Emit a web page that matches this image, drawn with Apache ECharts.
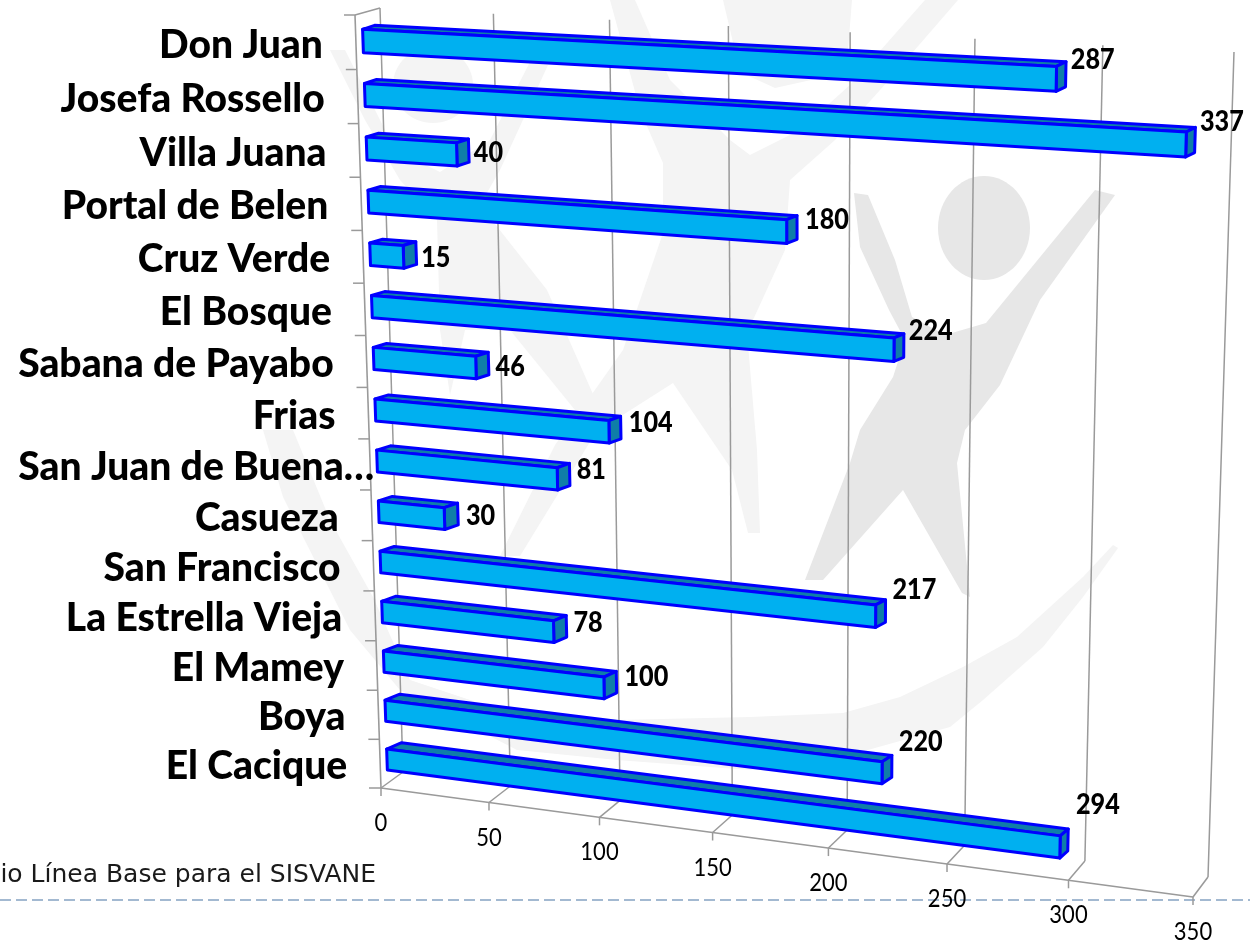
<!DOCTYPE html>
<html>
<head>
<meta charset="utf-8">
<style>html,body{margin:0;padding:0;background:#fff}#c{width:1250px;height:941px}</style>
<script src="https://cdn.jsdelivr.net/npm/echarts@6/dist/echarts.min.js"></script>
</head>
<body>
<div id="c"></div>
<script>
const categories = ['Don Juan','Josefa Rossello','Villa Juana','Portal de Belen','Cruz Verde','El Bosque','Sabana de Payabo','Frias','San Juan de Buena…','Casueza','San Francisco','La Estrella Vieja','El Mamey','Boya','El Cacique'];
const values = [287,337,40,180,15,224,46,104,81,30,217,78,100,220,294];
const ticks = [0,50,100,150,200,250,300,350];

// label placement relative to the projected bar end (styling, not data)
const labelNudge = [[5,-14],[5,-18],[5,2],[8,-8],[5,5],[5,-15],[7,3],[8,-5],[7,-4],[8,2],[7,-21],[7,-3],[8,-5],[7,-24],[8,-35]];

// --- projective view of the value/category plane ---
function homography(src, dst){
  const A=[];
  for(let i=0;i<4;i++){
    const [x,y]=src[i],[X,Y]=dst[i];
    A.push([x,y,1,0,0,0,-x*X,-y*X,X]);
    A.push([0,0,0,x,y,1,-x*Y,-y*Y,Y]);
  }
  for(let i=0;i<8;i++){
    let p=i;
    for(let r=i+1;r<8;r++) if(Math.abs(A[r][i])>Math.abs(A[p][i])) p=r;
    [A[i],A[p]]=[A[p],A[i]];
    for(let r=0;r<8;r++){
      if(r===i) continue;
      const f=A[r][i]/A[i][i];
      for(let k=i;k<9;k++) A[r][k]-=f*A[i][k];
    }
  }
  const h=A.map((row,i)=>row[8]/row[i]);
  return (x,y)=>{
    const w=h[6]*x+h[7]*y+1;
    return [(h[0]*x+h[1]*y+h[2])/w,(h[3]*x+h[4]*y+h[5])/w];
  };
}
const barSrc=[[0,0.5],[0,14.5],[337,1.5],[294,14.5]];
const barFront=homography(barSrc,[[363,41],[387,759.5],[1186,144.5],[1060,847]]);
const barBack =homography(barSrc,[[375,37],[402,753],[1195,140],[1068,840]]);
const wallSrc=[[0,0],[0,15],[350,15],[350,0]];
const wall =homography(wallSrc,[[380,8],[403,772],[1208,877],[1234,52]]);
const front=homography(wallSrc,[[355,15],[381,788],[1193,897],[1220,60]]);

const BAR_HALF=0.215;
const AXIS='#9a9a9a', FACE='#00b0f0', DARK='#0f7ea8', EDGE='#0000ff';
const sans='Lato, "Open Sans", sans-serif';

function unit(params,p){
  const s=params.coordSys;
  return [(p[0]-s.x)/s.width*350,(p[1]-s.y)/s.height*categories.length];
}
const poly=(pts,fill)=>({type:'polygon',shape:{points:pts},style:{fill,stroke:EDGE,lineWidth:3,lineJoin:'round'}});
const line=(a,b,w)=>({type:'line',shape:{x1:a[0],y1:a[1],x2:b[0],y2:b[1]},style:{stroke:AXIS,lineWidth:w||1.5}});
const text=(x,y,t,font,align,sx)=>({type:'text',x,y,scaleX:sx||1,style:{text:t,fill:'#000',font,align:align||'left',verticalAlign:'middle'}});

function renderBar(params,api){
  const i=api.value(1);
  const [v,c]=unit(params,api.coord([api.value(0),i]));
  const t=c-BAR_HALF,b=c+BAR_HALF;
  const fl=barFront(0,t),fb=barFront(0,b),fr=barFront(v,t),frb=barFront(v,b);
  const bl=barBack(0,t),br=barBack(v,t),brb=barBack(v,b);
  const mid=barBack(v,c);
  const n=labelNudge[i];
  return {type:'group',children:[
    poly([fl,bl,br,fr],DARK),
    poly([fr,br,brb,frb],DARK),
    poly([fl,fr,frb,fb],FACE),
    text(mid[0]+n[0],mid[1]+n[1],String(api.value(0)),'900 28px '+sans,'left',0.9)
  ]};
}
function renderTick(params,api){
  const [v]=unit(params,api.coord([api.value(0),0]));
  const topB=wall(v,0),botB=wall(v,15),f=front(v,15);
  const kids=[
    line(topB,botB),line(botB,f),line(f,[f[0],f[1]+8]),
    text(f[0],f[1]+35,String(api.value(0)),'25px '+sans,'center',0.88)
  ];
  if(v===0){
    const tl=front(0,0);
    kids.push(line(tl,f,1.6),line(tl,topB),line(f,front(350,15),1.6),line(f,[f[0]-12,f[1]]));
  }
  return {type:'group',children:kids};
}
function renderCat(params,api){
  const i=api.value(1);
  const [,c]=unit(params,api.coord([0,i]));
  const top=front(0,c-0.5),m=front(0,c);
  const name=categories[i];
  const off=name.endsWith('…')?4:-33;
  return {type:'group',children:[
    line(top,[top[0]-11,top[1]]),
    text(m[0]+off,m[1]+3,name,'900 39px '+sans,'right')
  ]};
}

// --- faint logo behind the plot ---
const lightGrey='#f4f4f4', midGrey='#e7e7e7';
const shape=(pts,fill)=>({type:'polygon',silent:true,shape:{points:pts},style:{fill}});
const watermark=[
  // centre figure
  shape([[723,0],[852,0],[848,50],[820,78],[775,88],[740,72]],lightGrey),
  shape([[610,0],[635,0],[670,80],[730,140],[750,155],[800,130],[850,85],[925,0],[958,0],[880,90],[835,140],[790,180],[785,250],[747,333],[757,450],[760,533],[748,533],[732,470],[673,383],[596,432],[520,556],[500,556],[555,445],[590,397],[623,350],[663,233],[663,163],[640,110]],lightGrey),
  // left figure
  {type:'ellipse',silent:true,shape:{cx:433,cy:85,rx:40,ry:38},style:{fill:lightGrey}},
  shape([[330,50],[345,50],[370,100],[395,150],[440,172],[490,140],[530,62],[548,65],[500,170],[480,205],[547,290],[600,410],[575,410],[510,330],[465,330],[450,395],[440,330],[437,220],[400,180],[365,120]],lightGrey),
  // lower swoosh
  shape([[263,430],[293,430],[330,520],[373,597],[410,680],[500,710],[617,720],[750,717],[843,713],[900,697],[963,667],[1017,637],[1083,577],[1113,545],[1118,548],[1083,597],[1043,647],[983,700],[950,727],[850,755],[750,770],[617,760],[517,750],[400,690],[350,630],[283,497]],lightGrey),
  // right figure
  shape([[854,193],[868,195],[895,260],[912,317],[945,335],[986,323],[1095,190],[1115,195],[1040,300],[1000,385],[965,430],[957,463],[970,597],[962,593],[903,490],[823,580],[805,580],[850,463],[860,430],[893,377],[905,340],[889,310],[860,247]],midGrey),
  {type:'ellipse',silent:true,shape:{cx:984,cy:228,rx:46,ry:52},style:{fill:midGrey}}
];

const chart=echarts.init(document.getElementById('c'),null,{width:1250,height:941});
chart.setOption({
  backgroundColor:'#fff',
  animation:false,
  grid:{left:100,top:20,width:1000,height:800},
  xAxis:{type:'value',min:0,max:350,interval:50,show:false},
  yAxis:{type:'category',data:categories,inverse:true,show:false},
  graphic:[
    ...watermark.map(w=>Object.assign({z:-10},w)),
    {type:'line',z:1,shape:{x1:0,y1:900,x2:1250,y2:900},style:{stroke:'#a3b9d1',lineWidth:2,lineDash:[11,5]}},
    {type:'text',z:1,x:376,y:875,style:{text:'io Línea Base para el SISVANE',fill:'#1a1a1a',font:'25px "DejaVu Sans", sans-serif',align:'right',verticalAlign:'middle'}}
  ],
  series:[
    {type:'custom',name:'ticks',z:2,silent:true,renderItem:renderTick,encode:{x:0},data:ticks.map(t=>[t])},
    {type:'custom',name:'categories',z:3,silent:true,renderItem:renderCat,encode:{x:0,y:1},data:categories.map((n,i)=>[0,i])},
    {type:'custom',name:'values',z:4,silent:true,renderItem:renderBar,encode:{x:0,y:1},data:values.map((v,i)=>[v,i])}
  ]
});
</script>
</body>
</html>
